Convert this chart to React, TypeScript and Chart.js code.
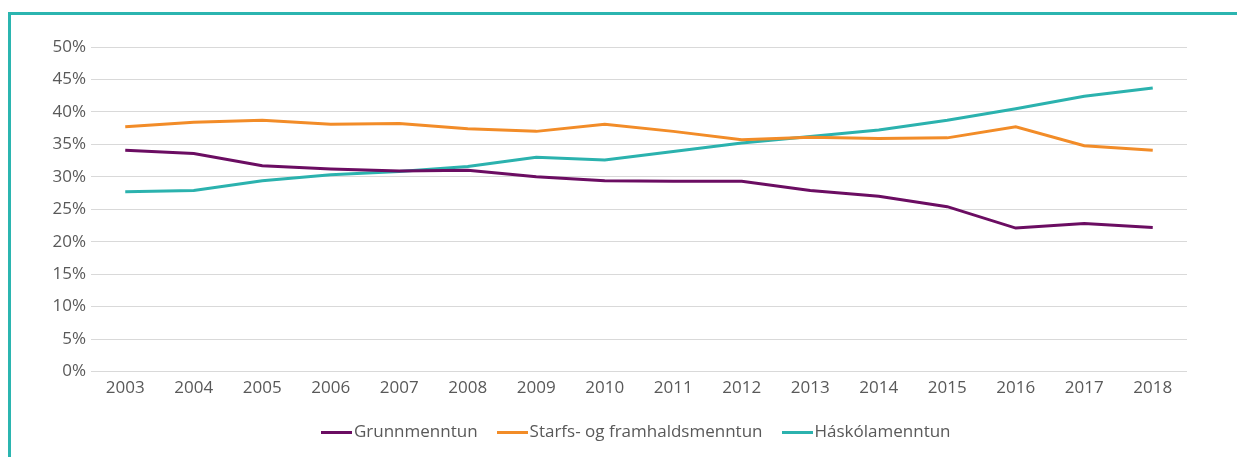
import React, { useEffect, useRef } from "react";
import { Chart, registerables } from "chart.js";

Chart.register(...registerables);

const years = ["2003","2004","2005","2006","2007","2008","2009","2010","2011","2012","2013","2014","2015","2016","2017","2018"];
const grunnmenntun = [34.1, 33.6, 31.7, 31.2, 30.9, 31.0, 30.0, 29.4, 29.3, 29.3, 27.9, 27.0, 25.4, 22.1, 22.8, 22.2];
const starfsnam = [37.7, 38.4, 38.7, 38.1, 38.2, 37.4, 37.0, 38.1, 37.0, 35.7, 36.1, 35.9, 36.0, 37.7, 34.8, 34.1];
const haskolamenntun = [27.7, 27.9, 29.4, 30.3, 30.8, 31.6, 33.0, 32.6, 33.9, 35.2, 36.2, 37.2, 38.7, 40.5, 42.4, 43.7];
const seriesNames = ["Grunnmenntun", "Starfs- og framhaldsmenntun", "Háskólamenntun"];
const colors = ["#6b0d62", "#f28c28", "#2bb2ae"];

const FONT = "'Open Sans', sans-serif";
const TEXT = "#595959";

function makeSwatch(color: string) {
  const c = document.createElement("canvas");
  c.width = 31;
  c.height = 3;
  const ctx = c.getContext("2d")!;
  ctx.fillStyle = color;
  ctx.fillRect(0, 0, 31, 3);
  return c;
}

export default function App() {
  const ref = useRef<HTMLCanvasElement | null>(null);
  useEffect(() => {
    if (!ref.current) return;
    const values = [grunnmenntun, starfsnam, haskolamenntun];
    const swatches = colors.map(makeSwatch);
    const chart = new Chart(ref.current, {
      type: "line",
      data: {
        labels: years,
        datasets: values.map((v, i) => ({
          label: seriesNames[i],
          data: v,
          borderColor: colors[i],
          backgroundColor: colors[i],
          borderWidth: 3,
          pointRadius: 0,
          tension: 0,
        })),
      },
      options: {
        animation: false,
        responsive: false,
        layout: { padding: { left: 0, right: 50, top: 32, bottom: 8 } },
        plugins: {
          tooltip: { enabled: false },
          legend: {
            position: "bottom",
            fullSize: false,
            labels: {
              usePointStyle: true,
              pointStyleWidth: 18,
              boxHeight: 3,
              padding: 25.5,
              color: TEXT,
              font: { family: FONT, size: 17 },
              generateLabels: (c: any) => {
                const items = Chart.defaults.plugins.legend.labels.generateLabels(c);
                return items.map((it: any, i: number) => ({ ...it, lineWidth: 0, pointStyle: swatches[i] }));
              },
            },
          },
        },
        scales: {
          x: {
            offset: true,
            grid: { display: false, drawTicks: false },
            border: { display: false },
            ticks: { color: TEXT, font: { family: FONT, size: 17 }, padding: 6, maxRotation: 0 },
            afterFit: (s: any) => { s.height = 27; },
          },
          y: {
            min: 0,
            max: 50,
            grid: { color: "#d9d9d9", lineWidth: 1, drawTicks: false },
            border: { display: false },
            ticks: {
              stepSize: 5,
              color: TEXT,
              font: { family: FONT, size: 17 },
              padding: 5,
              callback: (v: any) => v + "%",
            },
            afterFit: (s: any) => { s.width = 80; },
          },
        },
      },
    });
    return () => chart.destroy();
  }, []);

  return (
    <div
      style={{
        position: "absolute",
        left: 8,
        top: 12,
        width: 1240,
        height: 470,
        borderTop: "3px solid #2bb5b0",
        borderLeft: "3px solid #2bb5b0",
        background: "#fff",
      }}
    >
      <canvas ref={ref} width={1226} height={444} style={{ display: "block" }} />
    </div>
  );
}
